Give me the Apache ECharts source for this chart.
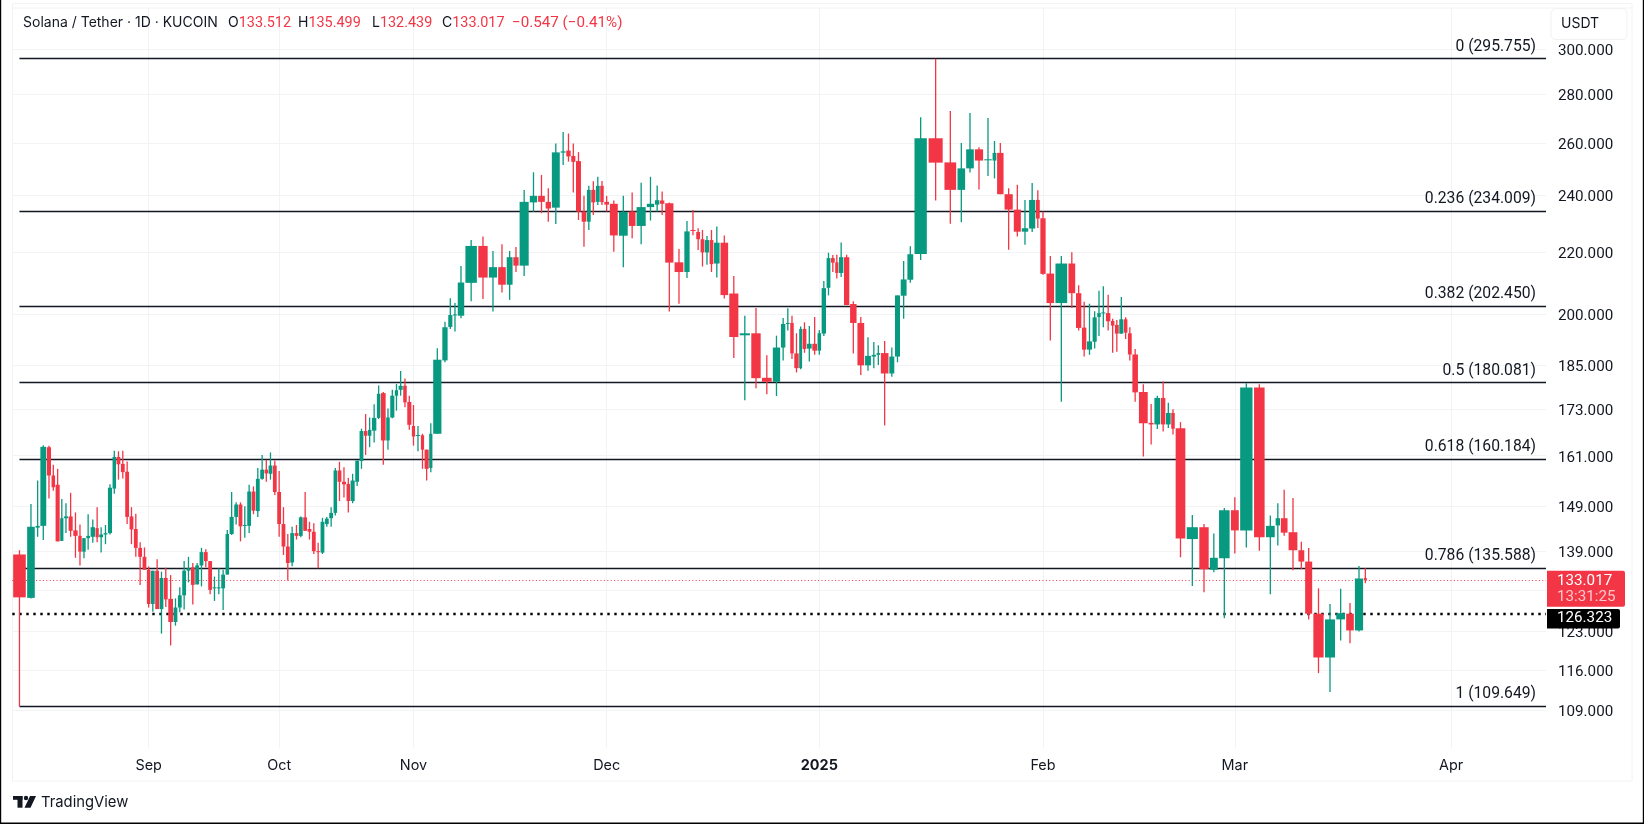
<!DOCTYPE html>
<html>
<head>
<meta charset="utf-8">
<title>SOL/USDT</title>
<script src="https://cdn.jsdelivr.net/npm/echarts@6/dist/echarts.min.js"></script>
<style>
  html, body { margin: 0; padding: 0; background: #fff; }
  #main { width: 1644px; height: 824px; }
</style>
</head>
<body>
<div id="main"></div>
<script>
// daily bars from 2024-08-05, bar width follows volume (volume candles)
const opens = [
  138.4,129.5,144.2,144.6,163.1,156.2,154,141.3,146.3,146.7,
  143.6,142.4,139,141.9,142.2,144.1,142.1,142.7,143,153.1,
  160.7,159,157.1,146.7,143.9,139.8,137.9,135.2,128.3,135,
  127.3,133.5,129.3,124.8,127.6,130,135,135.7,132.2,136.1,
  138.9,137,131.4,131.4,131.4,134.2,142.8,146.6,149.4,144.6,
  144.6,152.4,147.9,155.4,157.6,156.6,158.6,152.3,145,140.1,
  136.7,143,142.4,146.5,143.9,143.3,139.1,138.8,145,146.3,
  147.5,157.4,154.7,154.2,150.2,154.7,159.7,167.2,166,167.3,
  170.6,177.2,164.8,170.7,176.5,178.1,179.2,174.8,168.5,166,
  166.1,162.5,158,166.5,186.3,196.1,199.7,199.5,209.8,222,
  211.5,214.9,209.2,218.2,215.4,237.3,239.7,237.5,235.4,256.1,
  256.9,254.8,252.8,234,230.4,241.9,237.5,243.4,237.5,236.8,
  225.5,234,228.9,235.6,236.5,238,237,216.5,213.3,227.5,
  226.8,224.3,219.8,224,216.1,223.1,206.4,193.6,194.2,181.4,
  180.3,190,197,197.3,188.3,184.1,195.5,189.7,191.1,189.1,
  194.1,208.2,217.9,216.5,213,218.2,203.1,197.3,184.9,187.4,
  187.9,188.4,182.6,187.4,205.7,210.8,219.3,261.8,252.3,241.9,
  250,257.4,253.1,253,256,240.3,234.7,226.9,228,238.2,
  231.6,212.8,203.4,216.1,206.5,195.9,189.4,191.7,199.1,200.3,
  200.3,197.9,196.7,194.1,198.4,194.2,188,177.5,169.3,168.9,
  175.9,168.9,171.9,167.9,141.7,144.3,135.2,137.6,148.1,143.6,
  178.7,142.1,144.7,146.3,143.2,139.3,136.9,126.4,118.2,125.3,
  126.4,123.2,133.512
]
const closes = [
  129.6,144.4,144.6,163.2,156.2,153.4,141.2,146.3,146.7,143.5,
  142.4,139,141.9,142.4,144.3,142.1,142.7,143,153.3,160.7,
  158.9,157,146.6,143.8,139.8,137.9,135.2,128.3,135,127.3,
  133.5,129.2,124.8,127.6,130,135,135.5,132.1,136.1,138.9,
  137,131.1,131.6,131.6,134.2,142.8,146.6,149.4,144.5,144.8,
  152.4,148,155.4,157.6,156.7,158.6,152.3,145,140.1,136.6,
  143,142.4,146.5,143.5,143.3,139.1,138.9,145.5,146.2,147.5,
  157.4,154.7,154.1,150.2,155,159.8,167.2,166,167.5,170.6,
  177,164.8,170.7,176.5,178,179.2,174.7,168.8,165.8,166.2,
  162.5,157.8,166.5,186.5,196,199.7,199.9,209.9,222,211.5,
  214.9,209.2,218.2,215.4,237.5,239.7,237.5,235.1,256.2,256.6,
  254.6,252.5,234,230.4,241.9,237.3,243.4,237.4,236.5,225.6,
  233.9,228.9,235.6,236.8,238.1,236.8,216.4,213.3,227,227.2,
  224.3,219.8,224,215.9,223.1,205.9,193.1,194.2,181.3,180.3,
  190,197,197.3,188.3,184.1,195.5,189.6,191.1,189.1,194.2,
  208.1,217.9,216.4,213,218.2,202.8,197.3,184.9,187.6,187.9,
  188.4,182.6,187.4,205.8,210.9,219.2,261.8,252.2,241.9,250,
  257.4,253,253.5,256,240.3,234.7,226.9,228.1,238.2,231.5,
  212.7,203.4,216.1,206.5,195.8,189.4,191.8,199,200.3,200.5,
  197.8,196.5,194.1,198.4,194.4,188,177.4,169.2,168.9,175.9,
  168.9,171.9,167.8,141.8,144.3,135.3,137.7,148.1,143.6,178.7,
  142.1,144.6,146.3,143.1,139.3,136.9,126.4,118.2,125.3,126.5,
  123.2,133.4,133.017
]
const highs = [
  139.3,149.5,155,163.6,163.5,158.8,157.8,150.7,149.7,152.1,
  147.6,144.9,141.9,147.2,146,148.8,144.3,144.8,154.1,162.2,
  162.1,162.2,159.6,148.8,147.3,141,139.9,135.9,135,137.4,
  134.8,135.6,134.1,129.4,131.6,137,137.9,136.6,136.6,139.8,
  139.5,137,133.8,135.5,135.2,143.7,152.3,149.9,149.9,149,
  154,153.6,158,161.2,160,161.8,159.8,157.3,148.8,142.8,
  144.4,144.8,146.7,152.3,145.5,145.2,140.9,146.4,146.6,148.8,
  158,159.5,158.2,155.6,156.6,159.8,167.8,171.6,170.7,174.2,
  179.3,177.5,173.1,178.1,179.7,183.3,181.2,176.5,174,168.5,
  166.5,162.5,169.2,189.8,197.7,204.9,203.4,215.3,224,225.2,
  220.3,222.6,220.3,221.6,241.9,248.5,247.5,242.5,259.7,264.3,
  263.7,259.7,256.3,239.7,243.4,245.1,246.8,245.2,239.7,238,
  239.7,240.9,244.6,246.8,243.5,241.3,237.3,221,230.6,234.6,
  228.1,227.5,225.4,227.5,228.7,225.6,212,199.5,201.9,187.8,
  193.5,198.8,201.8,199.5,194.2,196.2,197.5,196.4,199.1,195.2,
  210.4,219.7,218.9,219,223.2,219,204,199.1,193,191.6,
  190.7,191.9,190,205.8,216.9,221.9,270.4,295.755,273,259.9,
  272.1,258.2,270,260.7,259.9,242.5,243.8,238.2,244.5,241.8,
  234,218.6,218.6,219.9,209,203.8,203.2,200.9,207.3,208.7,
  206,198.6,198.2,205.3,199,196,189.6,179.6,174.3,176.5,
  180.4,174.6,172.9,169.5,147,145,142.9,148.6,151.1,179.9,
  179.6,146.9,149.7,152.8,150.9,141.1,139.8,131.4,128.3,131.3,
  128.5,136,135.499
]
const lows = [
  109.649,129.4,142.2,141.5,150.8,152.6,141.2,141.3,143,142.2,
  137.7,136.1,137.6,139.4,140.9,141,138.8,140.6,142.7,151.9,
  155.2,155.5,145,140.6,137.9,132.1,135.2,127.6,126.8,127.3,
  122.6,127.7,120.4,124.1,126.7,127.2,132.6,128.2,132.2,131.8,
  135.7,130.2,128.9,130.2,127.1,134.2,142.6,144.9,141.2,142,
  143,147.2,146.6,155.2,154.7,155.2,151.6,142.2,138.3,133,
  135.9,141.6,142.1,143.5,141.6,138.5,135.5,138.5,144.4,144.4,
  146.9,150.2,151,147.6,149.7,153.7,157.8,161.2,163.1,164.3,
  170.3,158.8,162.5,170.5,172.5,176.5,173.4,167.5,163.5,162.1,
  157.8,155,157,166.5,185.8,195.5,194.7,198.7,204,204.7,
  200.8,206.7,204.4,213.3,212,233.9,233.4,230.4,229.6,251.3,
  252.6,240.9,231,221.7,227.5,232.8,236.4,236.4,234,220,
  214.9,224.6,222.6,230.8,234,232.8,200.8,203.2,211.4,225.7,
  220.6,215.1,215.7,213.3,211.5,204.8,187,175.3,178.5,176.9,
  176.4,186.3,195,186.7,182.9,183.8,188.5,186,187.9,187.9,
  193.4,205.8,213.3,211.2,211.7,202.7,188.3,182.2,183.4,184.1,
  185,168.6,181.7,185.8,198.6,209.8,217.3,238,229.7,230.2,
  248.4,242,247.1,246.2,240.3,220.7,225.2,222.4,226.8,228.2,
  212.4,192.1,174.9,201.9,195,187.4,187.9,189.7,193.4,196,
  195,188.5,188.8,194.1,192.5,186.3,174.9,160.8,163.8,167.7,
  167.1,168,166.3,137.8,131.9,130.6,134.7,125.5,138.6,139.9,
  139.2,130.2,140.3,142.4,135.1,135.3,125.3,115.4,112.1,121.3,
  120.8,123,132.439
]
const volumes = [
  43,26,14,20,14,12,14,11,14,14,
  15,12,12,13,15,11,13,13,14,12,
  13,13,13,13,13,13,13,12,13,13,
  13,13,16,13,13,13,13,13,13,13,
  13,13,13,13,13,12,14,13,13,13,
  13,13,13,13,12,13,13,13,13,13,
  13,13,13,13,13,13,13,13,13,13,
  12,13,14,12,14,13,13,12,12,15,
  12,16,12,14,11,14,12,14,11,16,
  11,14,11,28,18,14,14,22,39,32,
  28,26,20,18,31,25,23,18,27,17,
  15,14,17,16,13,14,13,12,16,27,
  30,23,31,25,15,15,28,30,18,18,
  13,13,14,13,19,26,31,35,32,33,
  25,15,13,12,15,10,13,16,16,12,
  15,13,13,11,15,18,22,23,20,15,
  12,26,17,17,20,20,42,48,40,26,
  26,28,26,13,22,28,24,22,21,13,
  18,26,40,23,18,15,17,14,12,14,
  15,12,13,14,12,13,19,30,17,20,
  15,16,12,33,38,32,27,36,27,42,
  36,30,15,23,30,20,24,35,34,30,
  26,28,10
]
const futureBarVolume = 15.3

const monthStarts = [27, 57, 88, 118, 149, 180, 208, 239]
const monthLabels = ['Sep', 'Oct', 'Nov', 'Dec', '2025', 'Feb', 'Mar', 'Apr']

const gridPrices = [300, 280, 260, 240, 220, 200, 185, 173, 161, 149, 139, 131, 123, 116, 109]
const labelPrices = [300, 280, 260, 240, 220, 200, 185, 173, 161, 149, 139, 123, 116, 109]

const fibLevels = ['0', '0.236', '0.382', '0.5', '0.618', '0.786', '1']
const fibPrices = [295.755, 234.009, 202.45, 180.081, 160.184, 135.588, 109.649]

const lastPrice = 133.017
const countdown = '13:31:25'
const supportPrice = 126.323

const UP = '#089981'
const DOWN = '#F23645'
const TEXT = '#131722'
const GRID = '#f2f3f5'
const FONT = 'Inter'
const NUM_FONT = 'Roboto'

// cumulative volume is the x scale
let cum = 0
const bars = opens.map((o, i) => {
  const start = cum
  cum += volumes[i]
  return [start, cum, o, closes[i], lows[i], highs[i]]
})
const barCenter = i => {
  if (i < bars.length) return (bars[i][0] + bars[i][1]) / 2
  return cum + (i - bars.length + 0.5) * futureBarVolume
}
const monthTicks = monthStarts.map(barCenter)

const fibMarks = fibPrices.map((p, i) => [
  {
    coord: [barCenter(0), p],
    label: { formatter: fibLevels[i] + ' (' + p.toFixed(3) + ')' }
  },
  { coord: [4601, p] }
])

const renderBar = (params, api) => {
  const start = api.value(0)
  const end = api.value(1)
  const open = api.value(2)
  const close = api.value(3)
  const left = api.coord([start, open])[0]
  const right = api.coord([end, open])[0]
  const mid = (left + right) / 2
  const bodyW = (right - left) * 0.88
  const yOpen = api.coord([start, open])[1]
  const yClose = api.coord([start, close])[1]
  const yLow = api.coord([start, api.value(4)])[1]
  const yHigh = api.coord([start, api.value(5)])[1]
  const color = close >= open ? UP : DOWN
  return {
    type: 'group',
    children: [
      {
        type: 'rect',
        shape: { x: mid - 0.65, y: yHigh, width: 1.3, height: yLow - yHigh },
        style: { fill: color }
      },
      {
        type: 'rect',
        shape: {
          x: mid - bodyW / 2,
          y: Math.min(yOpen, yClose),
          width: bodyW,
          height: Math.max(Math.abs(yOpen - yClose), 1)
        },
        style: { fill: color }
      }
    ]
  }
}

const chart = echarts.init(document.getElementById('main'))

const option = {
  animation: false,
  backgroundColor: '#fff',
  textStyle: { fontFamily: FONT },
  grid: { left: 12.3, right: 98, top: 8, bottom: 76 },
  xAxis: {
    type: 'value',
    min: 0,
    max: 4601,
    axisLine: { show: false },
    axisTick: { show: false, customValues: monthTicks },
    splitLine: { show: true, lineStyle: { color: GRID, width: 1 } },
    axisLabel: {
      customValues: monthTicks,
      margin: 11,
      fontFamily: FONT,
      fontSize: 14.4,
      color: TEXT,
      formatter: value => {
        const label = monthLabels[monthTicks.indexOf(value)]
        return label === '2025' ? '{year|2025}' : label
      },
      rich: { year: { fontFamily: FONT, fontSize: 14.4, fontWeight: 700, color: TEXT } }
    }
  },
  yAxis: {
    type: 'log',
    position: 'right',
    min: 102.9,
    max: 319.6,
    axisLine: { show: false },
    axisTick: { show: false, customValues: gridPrices },
    splitLine: { show: true, lineStyle: { color: GRID, width: 1 } },
    axisLabel: {
      customValues: labelPrices,
      margin: 12,
      color: TEXT,
      formatter: value => '{p|' + value.toFixed(3) + '}',
      // top padding nudges the numbers just below their grid line
      rich: { p: { fontFamily: NUM_FONT, fontSize: 15.2, color: TEXT, padding: [4, 0, 0, 0] } }
    }
  },
  series: [
    {
      name: 'fib',
      type: 'line',
      data: [],
      z: 2,
      symbol: 'none',
      markLine: {
        silent: true,
        symbol: 'none',
        animation: false,
        lineStyle: { color: '#131722', type: 'solid', width: 1.3 },
        label: {
          show: true,
          position: 'insideEndTop',
          distance: [10, 4],
          fontFamily: NUM_FONT,
          fontSize: 15.7,
          color: TEXT
        },
        data: fibMarks
      }
    },
    {
      name: 'levels',
      type: 'line',
      data: [],
      z: 3,
      symbol: 'none',
      markLine: {
        silent: true,
        symbol: 'none',
        animation: false,
        label: { show: false },
        data: [
          { yAxis: lastPrice, lineStyle: { color: DOWN, type: [1, 2.4], width: 1 } },
          { yAxis: supportPrice, lineStyle: { color: '#000', type: [2.4, 4.6], width: 2.4 } }
        ]
      }
    },
    {
      name: 'SOLUSDT',
      type: 'custom',
      z: 5,
      clip: true,
      renderItem: renderBar,
      encode: { x: [0, 1], y: [2, 3, 4, 5] },
      data: bars
    }
  ]
}

chart.setOption(option)

// price tags, header and frame sit outside the scales
const lastY = chart.convertToPixel({ xAxisIndex: 0, yAxisIndex: 0 }, [0, lastPrice])[1]
const supportY = chart.convertToPixel({ xAxisIndex: 0, yAxisIndex: 0 }, [0, supportPrice])[1]

const headFont = '14px ' + FONT
const numFont = '15.2px ' + NUM_FONT
const headRich = {
  k: { font: headFont, fill: TEXT },
  v: { font: '14.4px ' + NUM_FONT, fill: DOWN }
}
const headText = (x, text) => ({
  type: 'text',
  x: x,
  y: 23,
  z: 20,
  style: { text: text, rich: headRich, font: headFont, fill: TEXT, verticalAlign: 'middle' }
})

const line = (x1, y1, x2, y2, color, width) => ({
  type: 'line',
  z: 1,
  shape: { x1: x1, y1: y1, x2: x2, y2: y2 },
  style: { stroke: color, lineWidth: width }
})

chart.setOption({
  graphic: [
    line(12.5, 3.5, 1632, 3.5, '#f1f2f4', 1),
    line(12.5, 8, 1632, 8, '#f1f2f4', 1),
    line(12.5, 3.5, 12.5, 781, '#f1f2f4', 1),
    line(1632, 3.5, 1632, 781, '#f1f2f4', 1),
    line(12.5, 781, 1632, 781, '#f1f2f4', 1),
    line(0.5, 0, 0.5, 824, '#000', 1.4),
    line(1643.5, 0, 1643.5, 824, '#000', 1.4),
    line(0, 823.3, 1644, 823.3, '#000', 1.4),
    headText(23, 'Solana / Tether · 1D · KUCOIN'),
    headText(228, '{k|O}{v|133.512}'),
    headText(298, '{k|H}{v|135.499}'),
    headText(372, '{k|L}{v|132.439}'),
    headText(442, '{k|C}{v|133.017}'),
    {
      type: 'text',
      x: 512,
      y: 23,
      z: 20,
      style: { text: '−0.547 (−0.41%)', font: numFont, fill: DOWN, verticalAlign: 'middle' }
    },
    {
      type: 'rect',
      z: 20,
      shape: { x: 1551, y: 8.5, width: 76, height: 31, r: 5 },
      style: { fill: '#fff', stroke: '#f0f1f3', lineWidth: 1 }
    },
    {
      type: 'text',
      x: 1561,
      y: 24,
      z: 21,
      style: { text: 'USDT', font: '14px ' + FONT, fill: TEXT, verticalAlign: 'middle' }
    },
    {
      type: 'rect',
      z: 21,
      shape: { x: 1547, y: lastY - 9.5, width: 78, height: 36, r: [0, 2, 2, 0] },
      style: { fill: DOWN }
    },
    {
      type: 'text',
      x: 1557,
      y: lastY + 1,
      z: 22,
      style: { text: lastPrice.toFixed(3), font: numFont, fill: '#fff', verticalAlign: 'middle' }
    },
    {
      type: 'text',
      x: 1557,
      y: lastY + 17,
      z: 22,
      style: { text: countdown, font: numFont, fill: 'rgba(255,255,255,0.72)', verticalAlign: 'middle' }
    },
    {
      type: 'rect',
      z: 21,
      shape: { x: 1547, y: supportY - 5, width: 73, height: 19.5, r: [0, 2, 2, 0] },
      style: { fill: '#000' }
    },
    {
      type: 'text',
      x: 1557,
      y: supportY + 4,
      z: 22,
      style: { text: supportPrice.toFixed(3), font: numFont, fill: '#fff', verticalAlign: 'middle' }
    },
    // TradingView mark
    { type: 'rect', z: 20, shape: { x: 13, y: 796, width: 9.5, height: 3.8 }, style: { fill: TEXT } },
    { type: 'rect', z: 20, shape: { x: 17.5, y: 796, width: 5, height: 11.7 }, style: { fill: TEXT } },
    { type: 'circle', z: 20, shape: { cx: 26, cy: 798, r: 2.2 }, style: { fill: TEXT } },
    {
      type: 'polygon',
      z: 20,
      shape: { points: [[30, 796], [36, 796], [30.5, 807.7], [24.5, 807.7]] },
      style: { fill: TEXT }
    },
    {
      type: 'text',
      x: 41,
      y: 803,
      z: 20,
      style: { text: 'TradingView', font: '400 14.8px ' + FONT, fill: TEXT, verticalAlign: 'middle' }
    }
  ]
})
</script>
</body>
</html>
